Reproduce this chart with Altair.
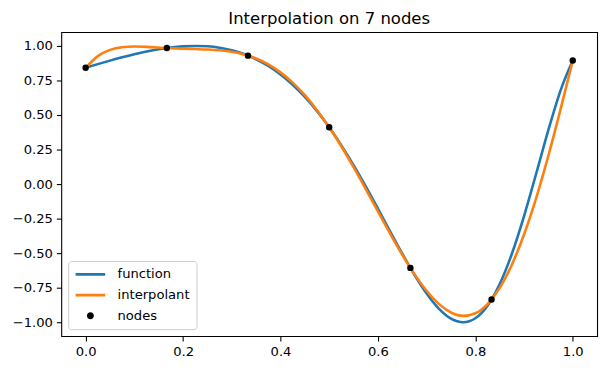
import altair as alt
import pandas as pd

# sample positions along x
x_grid = [0.0, 0.025, 0.05, 0.075, 0.1, 0.125, 0.15, 0.175, 0.2, 0.225,
          0.25, 0.275, 0.3, 0.325, 0.35, 0.375, 0.4, 0.425, 0.45, 0.475,
          0.5, 0.525, 0.55, 0.575, 0.6, 0.625, 0.65, 0.675, 0.7, 0.725,
          0.75, 0.775, 0.8, 0.825, 0.85, 0.875, 0.9, 0.925, 0.95, 0.975, 1.0]

function_vals = [0.8415, 0.8683, 0.8937, 0.9175, 0.9395, 0.9592, 0.9758, 0.9885, 0.9969, 1.0000,
                 0.9970, 0.9868, 0.9686, 0.9412, 0.9035, 0.8545, 0.7932, 0.7187, 0.6303, 0.5279,
                 0.4112, 0.2800, 0.1371, -0.0166, -0.1776, -0.3418, -0.5036, -0.6563, -0.7918, -0.9010,
                 -0.9735, -1.0000, -0.9713, -0.8801, -0.7237, -0.5043, -0.2314, 0.0765, 0.3919, 0.6783,
                 0.8940]

interpolant_vals = [0.8415, 0.9263, 0.9714, 0.9911, 0.9958, 0.9932, 0.9880, 0.9832, 0.9797, 0.9771,
                    0.9740, 0.9682, 0.9573, 0.9383, 0.9088, 0.8662, 0.8085, 0.7344, 0.6433, 0.5351,
                    0.4108, 0.2723, 0.1222, -0.0359, -0.1977, -0.3581, -0.5114, -0.6516, -0.7724, -0.8671,
                    -0.9296, -0.9540, -0.9351, -0.8685, -0.7517, -0.5833, -0.3646, -0.0991, 0.2066, 0.5424,
                    0.8940]

node_x = [0.0, 0.1667, 0.3333, 0.5, 0.6667, 0.8333, 1.0]
node_y = [0.8415, 0.9847, 0.9298, 0.4108, -0.6067, -0.8353, 0.8940]

series_names = ["function", "interpolant", "nodes"]
series_colors = ["#1f77b4", "#ff7f0e", "#000000"]
circle_path = "M-0.15,0A0.15,0.15,0,1,1,0.15,0A0.15,0.15,0,1,1,-0.15,0Z"
series_shapes = ["stroke", "stroke", circle_path]

x_ticks = [0.0, 0.2, 0.4, 0.6, 0.8, 1.0]
y_ticks = [-1.0, -0.75, -0.5, -0.25, 0.0, 0.25, 0.5, 0.75, 1.0]

func_df = pd.DataFrame({"x": x_grid, "y": function_vals, "series": "function"})
interp_df = pd.DataFrame({"x": x_grid, "y": interpolant_vals, "series": "interpolant"})
nodes_df = pd.DataFrame({"x": node_x, "y": node_y, "series": "nodes"})

legend = alt.Legend(
    title=None, orient="bottom-left", offset=7, padding=6,
    symbolSize=900, symbolStrokeWidth=2.6, symbolOpacity=1,
    labelOffset=11, labelFont="DejaVu Sans", labelFontSize=13.3, labelColor="black",
    strokeColor="#cccccc", fillColor="rgba(255,255,255,0.8)", cornerRadius=3,
    rowPadding=6, clipHeight=15,
)

X = alt.X("x:Q", scale=alt.Scale(domain=[-0.05, 1.05], nice=False, zero=False),
          axis=alt.Axis(values=x_ticks, format=".1f", title=None))
Y = alt.Y("y:Q", scale=alt.Scale(domain=[-1.1, 1.1], nice=False, zero=False),
          axis=alt.Axis(values=y_ticks, title=None,
                        labelExpr="replace(format(datum.value, '.2f'), '-', '\u2212')"))
color = alt.Color("series:N", scale=alt.Scale(domain=series_names, range=series_colors), legend=legend)
shape = alt.Shape("series:N", scale=alt.Scale(domain=series_names, range=series_shapes), legend=legend)

line_f = alt.Chart(func_df).mark_line(strokeWidth=2.6, interpolate="monotone").encode(x=X, y=Y, color=color)
line_p = alt.Chart(interp_df).mark_line(strokeWidth=2.6, interpolate="monotone").encode(x=X, y=Y, color=color)
pts = alt.Chart(nodes_df).mark_point(filled=True, size=900, opacity=1, stroke="black", strokeWidth=2).encode(
    x=X, y=Y, color=color, shape=shape)

chart = alt.layer(line_f, line_p, pts).properties(
    width=543, height=308,
    title=alt.TitleParams("Interpolation on 7 nodes", font="DejaVu Sans", fontSize=16.7,
                          fontWeight="normal", color="black", anchor="middle", offset=5),
    padding={"left": 54, "top": 22, "right": 9, "bottom": 34},
    autosize=alt.AutoSizeParams(type="none"),
).configure_view(stroke="black", strokeWidth=1.1).configure_axis(
    domain=False, grid=False, tickColor="black", tickSize=5, tickWidth=1.1,
    labelColor="black", labelFont="DejaVu Sans", labelFontSize=13.3, labelPadding=4,
)

chart.save("out.html", embed_options={"renderer": "svg", "actions": False})
